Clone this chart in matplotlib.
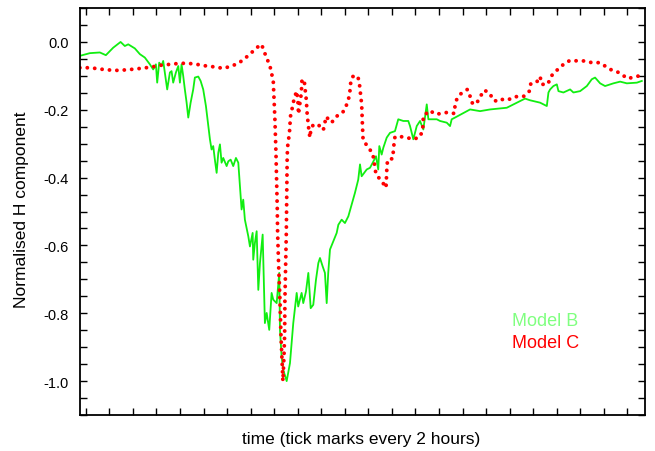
import numpy as np
import matplotlib.pyplot as plt
from matplotlib.ticker import MultipleLocator, FormatStrFormatter

plt.rcParams['font.family'] = ['Liberation Sans', 'DejaVu Sans']

# time in hours, normalised H component
t_b = [-0.51, 0.34, 1.19, 1.70, 2.32, 2.95, 3.31, 3.60, 4.16, 4.59, 5.01, 5.44, 5.72, 5.95,
       6.06, 6.23, 6.43, 6.57, 6.71, 6.91, 7.14, 7.28, 7.42, 7.65, 7.85, 7.99, 8.13, 8.27,
       8.41, 8.56, 8.70, 8.90, 9.12, 9.26, 9.55, 9.75, 9.97, 10.20, 10.40, 10.54, 10.68,
       10.82, 10.96, 11.11, 11.25, 11.39, 11.53, 11.67, 11.96, 12.10, 12.30, 12.52, 12.75,
       12.95, 13.09, 13.23, 13.37, 13.51, 13.80, 13.94, 14.17, 14.22, 14.36, 14.51, 14.65,
       14.79, 15.02, 15.21, 15.36, 15.58, 15.78, 15.92, 16.21, 16.43, 16.49, 16.63, 16.77,
       17.06, 17.34, 17.62, 17.91, 18.04, 18.33, 18.47, 18.70, 18.90, 19.10, 19.32, 19.55,
       19.75, 19.89, 20.12, 20.31, 20.46, 20.59, 20.74, 21.02, 21.31, 21.45, 21.73, 22.01,
       22.30, 22.58, 22.86, 23.14, 23.29, 23.43, 23.86, 24.14, 24.37, 24.65, 24.84, 24.93,
       25.13, 25.27, 25.56, 25.84, 26.26, 26.54, 26.97, 27.39, 27.54, 27.82, 28.11, 28.39,
       28.67, 28.96, 29.10, 29.81, 30.09, 30.66, 30.94, 31.08, 31.36, 32.64, 33.49, 34.34,
       35.76, 36.61, 37.31, 37.74, 38.59, 39.16, 39.30, 39.44, 39.72, 40.01, 40.15, 40.57,
       41.14, 41.42, 41.99, 42.56, 42.98, 43.26, 43.69, 44.11, 44.82, 45.39, 45.96, 46.81,
       47.23]
model_b = [-0.041, -0.033, -0.031, -0.039, -0.017, 0.0, -0.012, -0.007, -0.019, -0.036,
           -0.046, -0.066, -0.081, -0.066, -0.120, -0.061, -0.071, -0.056, -0.090, -0.140,
           -0.090, -0.086, -0.120, -0.090, -0.071, -0.120, -0.066, -0.100, -0.140, -0.179,
           -0.223, -0.179, -0.140, -0.105, -0.102, -0.115, -0.140, -0.189, -0.248, -0.287,
           -0.317, -0.307, -0.347, -0.386, -0.327, -0.302, -0.356, -0.342, -0.366, -0.352,
           -0.347, -0.366, -0.342, -0.356, -0.425, -0.494, -0.465, -0.524, -0.573, -0.603,
           -0.563, -0.642, -0.593, -0.558, -0.731, -0.652, -0.568, -0.829, -0.799, -0.849,
           -0.740, -0.760, -0.770, -0.681, -0.849, -0.928, -0.967, -1.0, -0.947, -0.829,
           -0.740, -0.780, -0.740, -0.770, -0.736, -0.681, -0.785, -0.775, -0.701, -0.652,
           -0.637, -0.662, -0.681, -0.770, -0.681, -0.612, -0.588, -0.563, -0.539, -0.524,
           -0.534, -0.514, -0.479, -0.445, -0.406, -0.361, -0.396, -0.376, -0.371, -0.356,
           -0.337, -0.376, -0.307, -0.332, -0.312, -0.282, -0.268, -0.263, -0.228, -0.233,
           -0.233, -0.248, -0.287, -0.248, -0.233, -0.258, -0.184, -0.228, -0.228, -0.233,
           -0.238, -0.248, -0.228, -0.223, -0.199, -0.204, -0.199, -0.194, -0.179, -0.167,
           -0.172, -0.179, -0.189, -0.149, -0.140, -0.130, -0.125, -0.145, -0.149, -0.140,
           -0.149, -0.145, -0.130, -0.110, -0.105, -0.122, -0.130, -0.122, -0.117, -0.122,
           -0.120, -0.115]

t_c = [-0.51, 0.11, 0.82, 1.47, 2.12, 2.80, 3.46, 4.16, 4.87, 5.58, 6.29, 7.14, 7.99, 8.70,
       9.41, 10.26, 11.05, 11.67, 12.38, 12.95, 13.43, 14.00, 14.51, 14.93, 15.13, 15.41,
       15.64, 15.92, 16.06, 16.15, 16.26, 16.29, 16.38, 16.49, 16.57, 16.66, 16.74, 16.83,
       16.89, 16.91, 16.97, 17.03, 17.06, 17.08, 17.10, 17.13, 17.20, 17.28, 17.34, 17.36,
       17.48, 17.62, 17.76, 17.91, 18.00, 18.04, 18.06, 18.13, 18.27, 18.33, 18.36, 18.56,
       18.61, 18.70, 18.76, 18.81, 18.90, 18.95, 19.04, 19.10, 19.32, 19.80, 20.17, 20.31,
       20.40, 20.88, 21.25, 21.73, 22.01, 22.21, 22.38, 22.45, 22.50, 22.67, 23.09, 23.23,
       23.29, 23.43, 23.46, 23.50, 23.52, 23.55, 23.91, 24.37, 24.48, 24.65, 25.13, 25.50,
       25.56, 25.58, 25.64, 26.07, 26.12, 26.18, 26.26, 26.54, 27.26, 27.82, 28.39, 28.62,
       28.67, 29.24, 29.66, 30.23, 30.79, 31.30, 31.36, 31.51, 31.85, 32.41, 32.64, 32.78,
       33.15, 33.49, 33.85, 34.34, 34.57, 35.04, 35.53, 36.10, 36.66, 37.23, 37.68, 37.80,
       38.31, 38.59, 38.73, 39.24, 39.52, 39.80, 40.29, 40.71, 41.20, 41.76, 42.41, 42.98,
       43.63, 44.11, 44.54, 45.05, 45.62, 46.01, 46.65, 47.23]
model_c = [-0.076, -0.076, -0.078, -0.081, -0.083, -0.084, -0.082, -0.080, -0.077, -0.074,
           -0.069, -0.066, -0.063, -0.063, -0.066, -0.071, -0.074, -0.078, -0.071, -0.063,
           -0.051, -0.034, -0.017, -0.007, -0.027, -0.051, -0.071, -0.115, -0.228, -0.327,
           -0.490, -0.563, -0.662, -0.760, -0.859, -0.937, -1.0, -0.928, -0.859, -0.760,
           -0.662, -0.563, -0.465, -0.400, -0.347, -0.312, -0.292, -0.273, -0.248, -0.223,
           -0.204, -0.179, -0.160, -0.145, -0.169, -0.189, -0.213, -0.194, -0.160, -0.135,
           -0.110, -0.115, -0.135, -0.160, -0.189, -0.218, -0.243, -0.263, -0.282, -0.263,
           -0.243, -0.246, -0.260, -0.238, -0.220, -0.238, -0.220, -0.211, -0.199, -0.179,
           -0.160, -0.140, -0.120, -0.102, -0.100, -0.120, -0.140, -0.184, -0.209, -0.248,
           -0.268, -0.289, -0.307, -0.329, -0.351, -0.391, -0.410, -0.430, -0.386, -0.366,
           -0.347, -0.344, -0.322, -0.300, -0.280, -0.278, -0.282, -0.287, -0.280, -0.258,
           -0.218, -0.202, -0.213, -0.211, -0.207, -0.211, -0.189, -0.169, -0.153, -0.140,
           -0.160, -0.179, -0.184, -0.162, -0.142, -0.152, -0.171, -0.176, -0.167, -0.169,
           -0.160, -0.160, -0.145, -0.123, -0.118, -0.102, -0.125, -0.125, -0.102, -0.089,
           -0.076, -0.061, -0.054, -0.056, -0.056, -0.061, -0.061, -0.071, -0.081, -0.086,
           -0.098, -0.108, -0.103, -0.098]

fig = plt.figure(figsize=(6.55, 4.52), dpi=100)
ax = fig.add_axes([0.1221, 0.0796, 0.8626, 0.9004])

ax.plot(t_b, model_b, color='#11ee11', lw=1.3)
ax.plot(t_c, model_c, color='#ff0000', lw=2.8, linestyle=(0, (0.01, 1.9)),
        dash_capstyle='round')

ax.set_xlim(-0.5, 47.5)
ax.set_ylim(-1.1, 0.1)
ax.set_xticks(np.arange(0, 47, 2))
ax.set_xticklabels([])
ax.yaxis.set_major_locator(MultipleLocator(0.2))
ax.yaxis.set_minor_locator(MultipleLocator(0.05))
ax.yaxis.set_major_formatter(FormatStrFormatter('%.1f'))
ax.tick_params(which='both', direction='in', top=True, right=True,
               length=5, width=1, labelsize=10.5, pad=8)
for s in ax.spines.values():
    s.set_linewidth(1.3)

fig.text(0.551, 1 - 440 / 452, 'time (tick marks every 2 hours)', fontsize=12.5,
         ha='center', va='center')
fig.text(0.033, 0.535, 'Normalised H component', rotation=90, fontsize=12.5,
         ha='center', va='center')

fig.text(512 / 655, 1 - 326 / 452, 'Model B', color='#80ff80', fontsize=13,
         va='baseline')
fig.text(512 / 655, 1 - 348 / 452, 'Model C', color='#ff0000', fontsize=13,
         va='baseline')

fig.savefig('out.png', dpi=100)
